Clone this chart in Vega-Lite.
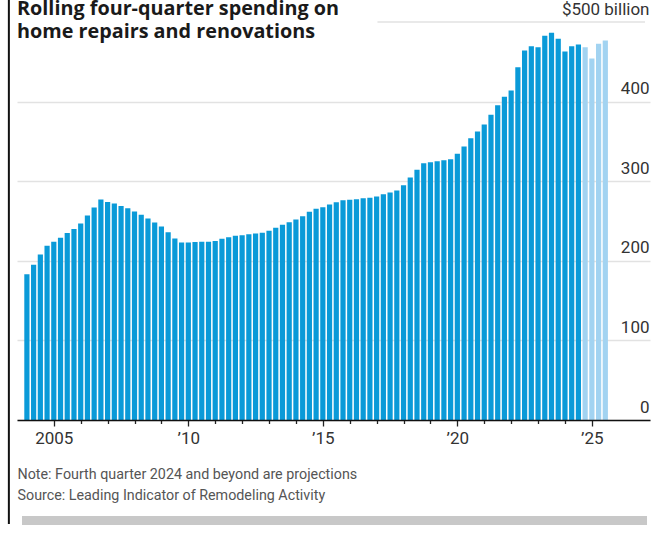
{
  "$schema": "https://vega.github.io/schema/vega-lite/v6.json",
  "width": 633,
  "height": 398,
  "autosize": "none",
  "padding": {"left": 17, "top": 22, "right": 2, "bottom": 124},
  "background": "white",
  "config": {"view": {"stroke": null}, "font": "Roboto"},
  "title": {
    "text": ["Rolling four-quarter spending on", "home repairs and renovations"],
    "anchor": "start",
    "frame": "group",
    "font": "Open Sans",
    "fontSize": 19.8,
    "fontWeight": "bold",
    "color": "#1a1a1a",
    "lineHeight": 23,
    "baseline": "top",
    "offset": -43
  },
  "resolve": {"axis": {"x": "independent"}},
  "data": {
    "values": [
      {"t": 2004.0, "v": 183, "kind": "actual"},
      {"t": 2004.25, "v": 195, "kind": "actual"},
      {"t": 2004.5, "v": 208, "kind": "actual"},
      {"t": 2004.75, "v": 219, "kind": "actual"},
      {"t": 2005.0, "v": 224, "kind": "actual"},
      {"t": 2005.25, "v": 229, "kind": "actual"},
      {"t": 2005.5, "v": 235, "kind": "actual"},
      {"t": 2005.75, "v": 240, "kind": "actual"},
      {"t": 2006.0, "v": 247, "kind": "actual"},
      {"t": 2006.25, "v": 257, "kind": "actual"},
      {"t": 2006.5, "v": 267, "kind": "actual"},
      {"t": 2006.75, "v": 277, "kind": "actual"},
      {"t": 2007.0, "v": 274, "kind": "actual"},
      {"t": 2007.25, "v": 272, "kind": "actual"},
      {"t": 2007.5, "v": 269, "kind": "actual"},
      {"t": 2007.75, "v": 266, "kind": "actual"},
      {"t": 2008.0, "v": 262, "kind": "actual"},
      {"t": 2008.25, "v": 258, "kind": "actual"},
      {"t": 2008.5, "v": 253, "kind": "actual"},
      {"t": 2008.75, "v": 248, "kind": "actual"},
      {"t": 2009.0, "v": 243, "kind": "actual"},
      {"t": 2009.25, "v": 236, "kind": "actual"},
      {"t": 2009.5, "v": 228, "kind": "actual"},
      {"t": 2009.75, "v": 223, "kind": "actual"},
      {"t": 2010.0, "v": 223, "kind": "actual"},
      {"t": 2010.25, "v": 223.5, "kind": "actual"},
      {"t": 2010.5, "v": 224, "kind": "actual"},
      {"t": 2010.75, "v": 224, "kind": "actual"},
      {"t": 2011.0, "v": 225, "kind": "actual"},
      {"t": 2011.25, "v": 227.6, "kind": "actual"},
      {"t": 2011.5, "v": 229.7, "kind": "actual"},
      {"t": 2011.75, "v": 231.4, "kind": "actual"},
      {"t": 2012.0, "v": 232.2, "kind": "actual"},
      {"t": 2012.25, "v": 233.4, "kind": "actual"},
      {"t": 2012.5, "v": 234.3, "kind": "actual"},
      {"t": 2012.75, "v": 235.2, "kind": "actual"},
      {"t": 2013.0, "v": 237.7, "kind": "actual"},
      {"t": 2013.25, "v": 241.5, "kind": "actual"},
      {"t": 2013.5, "v": 245.2, "kind": "actual"},
      {"t": 2013.75, "v": 248.5, "kind": "actual"},
      {"t": 2014.0, "v": 251.9, "kind": "actual"},
      {"t": 2014.25, "v": 256, "kind": "actual"},
      {"t": 2014.5, "v": 261.5, "kind": "actual"},
      {"t": 2014.75, "v": 265.3, "kind": "actual"},
      {"t": 2015.0, "v": 267.4, "kind": "actual"},
      {"t": 2015.25, "v": 270.7, "kind": "actual"},
      {"t": 2015.5, "v": 273.6, "kind": "actual"},
      {"t": 2015.75, "v": 276.1, "kind": "actual"},
      {"t": 2016.0, "v": 276.6, "kind": "actual"},
      {"t": 2016.25, "v": 277.4, "kind": "actual"},
      {"t": 2016.5, "v": 278.6, "kind": "actual"},
      {"t": 2016.75, "v": 279.1, "kind": "actual"},
      {"t": 2017.0, "v": 280.8, "kind": "actual"},
      {"t": 2017.25, "v": 283.7, "kind": "actual"},
      {"t": 2017.5, "v": 285.8, "kind": "actual"},
      {"t": 2017.75, "v": 288.3, "kind": "actual"},
      {"t": 2018.0, "v": 295, "kind": "actual"},
      {"t": 2018.25, "v": 304.5, "kind": "actual"},
      {"t": 2018.5, "v": 314.3, "kind": "actual"},
      {"t": 2018.75, "v": 322.6, "kind": "actual"},
      {"t": 2019.0, "v": 323.7, "kind": "actual"},
      {"t": 2019.25, "v": 325, "kind": "actual"},
      {"t": 2019.5, "v": 326.4, "kind": "actual"},
      {"t": 2019.75, "v": 327.6, "kind": "actual"},
      {"t": 2020.0, "v": 334.4, "kind": "actual"},
      {"t": 2020.25, "v": 343.6, "kind": "actual"},
      {"t": 2020.5, "v": 354, "kind": "actual"},
      {"t": 2020.75, "v": 362.4, "kind": "actual"},
      {"t": 2021.0, "v": 371.2, "kind": "actual"},
      {"t": 2021.25, "v": 383.4, "kind": "actual"},
      {"t": 2021.5, "v": 395.5, "kind": "actual"},
      {"t": 2021.75, "v": 406, "kind": "actual"},
      {"t": 2022.0, "v": 414, "kind": "actual"},
      {"t": 2022.25, "v": 443.2, "kind": "actual"},
      {"t": 2022.5, "v": 464.2, "kind": "actual"},
      {"t": 2022.75, "v": 469.6, "kind": "actual"},
      {"t": 2023.0, "v": 468.3, "kind": "actual"},
      {"t": 2023.25, "v": 482.7, "kind": "actual"},
      {"t": 2023.5, "v": 486.4, "kind": "actual"},
      {"t": 2023.75, "v": 478.9, "kind": "actual"},
      {"t": 2024.0, "v": 462.9, "kind": "actual"},
      {"t": 2024.25, "v": 469.6, "kind": "actual"},
      {"t": 2024.5, "v": 471.7, "kind": "actual"},
      {"t": 2024.75, "v": 468.3, "kind": "projection"},
      {"t": 2025.0, "v": 454.1, "kind": "projection"},
      {"t": 2025.25, "v": 472.6, "kind": "projection"},
      {"t": 2025.5, "v": 476.8, "kind": "projection"}
    ]
  },
  "layer": [
    {
      "data": {"values": [{}]},
      "mark": {"type": "rule", "clip": false, "color": "#111111", "strokeWidth": 2},
      "encoding": {
        "x": {"datum": 2003.33, "type": "quantitative", "axis": null},
        "y": {"datum": 527.6, "type": "quantitative"},
        "y2": {"datum": -130.7}
      }
    },
    {
      "data": {"values": [{}]},
      "mark": {"type": "rule", "clip": false, "color": "#c8c8c8", "strokeWidth": 9},
      "encoding": {
        "x": {"datum": 2003.818, "type": "quantitative", "axis": null},
        "x2": {"datum": 2027.05},
        "y": {"datum": -126.3, "type": "quantitative"}
      }
    },
    {
      "data": {"values": [{}]},
      "mark": {"type": "rule", "clip": false, "color": "#e2e2e2", "strokeWidth": 1.5},
      "encoding": {
        "x": {
          "datum": 2017.03,
          "type": "quantitative",
          "axis": {
            "orient": "bottom",
            "values": [2006, 2007, 2008, 2009, 2011, 2012, 2013, 2014, 2016, 2017, 2018, 2019, 2021, 2022, 2023, 2024],
            "labels": false,
            "tickSize": 3.5,
            "tickColor": "#222222",
            "tickWidth": 1.3,
            "domain": false,
            "grid": false,
            "zindex": 1,
            "title": null
          }
        },
        "x2": {"datum": 2026.975},
        "y": {"datum": 500, "type": "quantitative"}
      }
    },
    {
      "mark": {"type": "bar", "width": 5.2},
      "encoding": {
        "x": {
          "field": "t",
          "type": "quantitative",
          "scale": {"domain": [2003.818, 2026.975], "nice": false, "zero": false},
          "axis": {
            "orient": "bottom",
            "values": [2005, 2010, 2015, 2020, 2025],
            "labelExpr": "datum.value == 2005 ? '2005' : '\u2019' + slice(toString(datum.value), 2)",
            "labelOverlap": false,
            "labelFont": "Roboto",
            "labelFontSize": 17,
            "labelColor": "#333333",
            "labelPadding": 4,
            "tickSize": 6,
            "tickColor": "#222222",
            "tickWidth": 1.3,
            "domainColor": "#111111",
            "domainWidth": 1.3,
            "grid": false,
            "zindex": 1,
            "title": ["Note: Fourth quarter 2024 and beyond are projections", "Source: Leading Indicator of Remodeling Activity"],
            "titleFont": "Roboto",
            "titleFontSize": 14.3,
            "titleFontWeight": "normal",
            "titleColor": "#555555",
            "titleAnchor": "start",
            "titleAlign": "left",
            "titleBaseline": "alphabetic",
            "titleLineHeight": 21,
            "titleX": 0,
            "titleY": 58
          }
        },
        "y": {
          "field": "v",
          "type": "quantitative",
          "scale": {"domain": [0, 500], "nice": false},
          "axis": {
            "orient": "right",
            "values": [0, 100, 200, 300, 400, 500],
            "labelExpr": "datum.value == 500 ? '$500 billion' : datum.label",
            "labelAlign": "right",
            "labelBaseline": "alphabetic",
            "labelOffset": -8,
            "labelPadding": -1,
            "labelFont": "Roboto",
            "labelFontSize": 17,
            "labelColor": "#333333",
            "ticks": false,
            "tickSize": 0,
            "domain": false,
            "grid": true,
            "gridColor": "#e2e2e2",
            "gridWidth": 1.5,
            "gridOpacity": {"condition": {"test": "datum.value == 500", "value": 0}, "value": 1},
            "title": null
          }
        },
        "color": {
          "field": "kind",
          "type": "nominal",
          "scale": {"domain": ["actual", "projection"], "range": ["#0a9ad8", "#a2d3f1"]},
          "legend": null
        }
      }
    }
  ]
}
